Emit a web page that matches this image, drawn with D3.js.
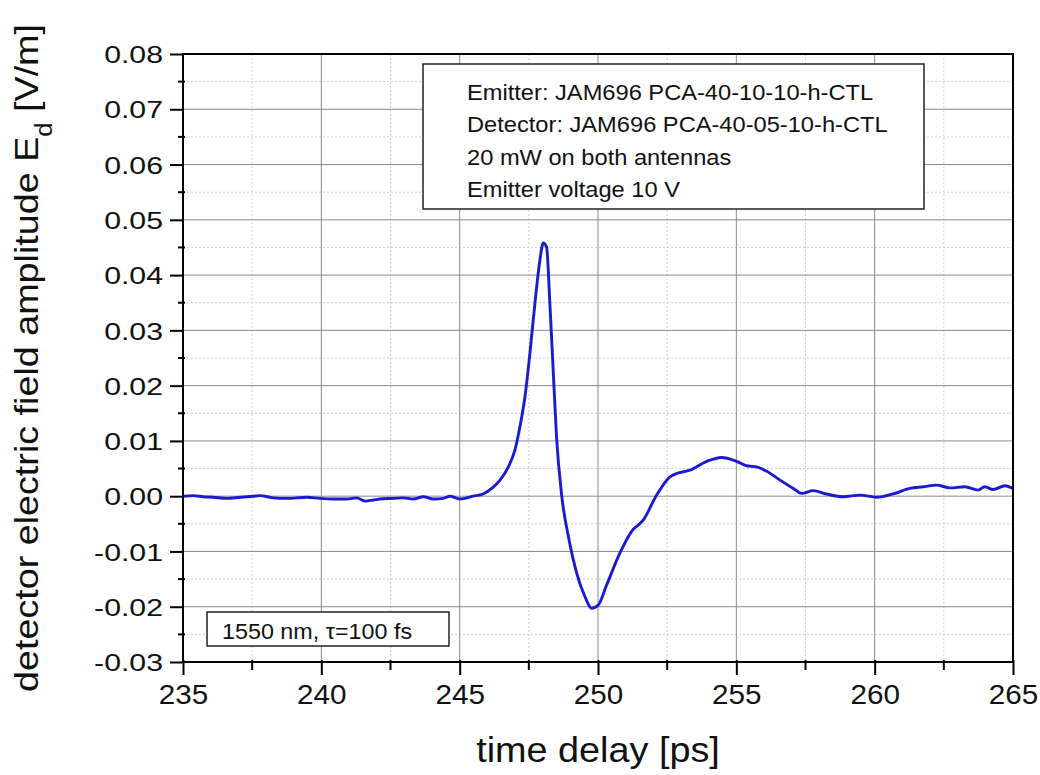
<!DOCTYPE html>
<html>
<head>
<meta charset="utf-8">
<script src="https://cdn.jsdelivr.net/npm/d3@7"></script>
<style>
  body { margin: 0; background: #fff; }
  text { font-family: "Liberation Sans", Arial, sans-serif; fill: #111; }
</style>
</head>
<body>
<div id="chart"></div>
<script>
// measured trace: time delay [ps] and field amplitude [V/m]
const timeDelay = [235.0, 235.37, 235.73, 236.1, 236.58, 237.06, 237.54, 237.78, 238.27, 238.75,
  239.47, 239.95, 240.43, 240.92, 241.28, 241.58, 241.88, 242.12, 242.6, 242.96,
  243.32, 243.69, 244.05, 244.41, 244.65, 245.01, 245.48, 245.85, 246.16, 246.46,
  246.76, 247.0, 247.18, 247.36, 247.54, 247.72, 247.9, 248.02, 248.14, 248.26,
  248.38, 248.5, 248.69, 248.93, 249.23, 249.53, 249.77, 250.01, 250.31, 250.79,
  251.21, 251.64, 252.12, 252.6, 252.84, 253.32, 253.93, 254.47, 255.01, 255.37,
  255.73, 256.1, 256.58, 257.06, 257.36, 257.78, 258.26, 258.86, 259.47, 260.07,
  260.67, 261.27, 261.75, 262.24, 262.72, 263.26, 263.74, 263.98, 264.28, 264.71, 265.0]
const fieldAmp = [0.0000, 0.0001, -0.0001, -0.0002, -0.0004, -0.0002, 0.0000, 0.0001, -0.0003, -0.0004,
  -0.0002, -0.0004, -0.0005, -0.0005, -0.0003, -0.0009, -0.0007, -0.0005, -0.0004, -0.0003,
  -0.0005, -0.0001, -0.0005, -0.0004, 0.0000, -0.0005, 0.0000, 0.0004, 0.0014, 0.0029,
  0.0053, 0.0084, 0.0126, 0.0180, 0.0259, 0.0349, 0.0427, 0.0458, 0.0451, 0.0349,
  0.0228, 0.0108, 0.0000, -0.0073, -0.0139, -0.0182, -0.0203, -0.0197, -0.0161, -0.0103,
  -0.0064, -0.0043, 0.0002, 0.0035, 0.0041, 0.0047, 0.0063, 0.0070, 0.0063, 0.0055,
  0.0053, 0.0045, 0.0029, 0.0014, 0.0005, 0.0010, 0.0004, -0.0001, 0.0002, -0.0002,
  0.0004, 0.0014, 0.0017, 0.0020, 0.0015, 0.0017, 0.0011, 0.0017, 0.0012, 0.0019, 0.0014]

const xTicks = [235, 240, 245, 250, 255, 260, 265]
const xMinor = [237.5, 242.5, 247.5, 252.5, 257.5, 262.5]
const yTicks = [-0.03, -0.02, -0.01, 0.00, 0.01, 0.02, 0.03, 0.04, 0.05, 0.06, 0.07, 0.08]
const yMinor = [-0.025, -0.015, -0.005, 0.005, 0.015, 0.025, 0.035, 0.045, 0.055, 0.065, 0.075]

const infoLines = ["Emitter: JAM696 PCA-40-10-10-h-CTL",
  "Detector: JAM696 PCA-40-05-10-h-CTL",
  "20 mW on both antennas",
  "Emitter voltage 10 V"]
const laserLabel = "1550 nm, \u03c4=100 fs"

const width = 1040, height = 775
const margin = { top: 54, right: 27, bottom: 113, left: 183 }

const svg = d3.select("#chart").append("svg")
  .attr("width", width)
  .attr("height", height)

const x = d3.scaleLinear().domain([235, 265]).range([margin.left, width - margin.right])
const y = d3.scaleLinear().domain([-0.03, 0.08]).range([height - margin.bottom, margin.top])

// stretch text horizontally, the original fonts run wide
function stretch(sel, k) {
  sel.each(function () {
    const w = this.getComputedTextLength()
    d3.select(this).attr("textLength", w * k).attr("lengthAdjust", "spacingAndGlyphs")
  })
}

// grid
const grid = svg.append("g")
grid.selectAll(".xminor").data(xMinor).enter().append("line")
  .attr("x1", d => x(d)).attr("x2", d => x(d))
  .attr("y1", y(0.08)).attr("y2", y(-0.03))
  .attr("stroke", "#cfcfcf").attr("stroke-dasharray", "2,2")
grid.selectAll(".yminor").data(yMinor).enter().append("line")
  .attr("x1", x(235)).attr("x2", x(265))
  .attr("y1", d => y(d)).attr("y2", d => y(d))
  .attr("stroke", "#cfcfcf").attr("stroke-dasharray", "2,2")
grid.selectAll(".xmajor").data(xTicks.slice(1, -1)).enter().append("line")
  .attr("x1", d => x(d)).attr("x2", d => x(d))
  .attr("y1", y(0.08)).attr("y2", y(-0.03))
  .attr("stroke", "#8a8a8a").attr("stroke-width", 1)
grid.selectAll(".ymajor").data(yTicks.slice(1, -1)).enter().append("line")
  .attr("x1", x(235)).attr("x2", x(265))
  .attr("y1", d => y(d)).attr("y2", d => y(d))
  .attr("stroke", "#8a8a8a").attr("stroke-width", 1)

// trace
const pts = timeDelay.map((t, i) => [t, fieldAmp[i]])
const line = d3.line()
  .x(d => x(d[0]))
  .y(d => y(d[1]))
  .curve(d3.curveMonotoneX)

svg.append("path")
  .datum(pts)
  .attr("fill", "none")
  .attr("stroke", "#1a1ad2")
  .attr("stroke-width", 2.9)
  .attr("stroke-linejoin", "round")
  .attr("d", line)

// axes
const xAxis = svg.append("g")
  .attr("transform", `translate(0,${y(-0.03)})`)
  .call(d3.axisBottom(x).tickValues(xTicks).tickSize(13).tickPadding(9).tickFormat(d3.format("d")))
xAxis.selectAll(".tick").append("line").attr("y1", -2).attr("y2", 0).attr("stroke", "#000")
xAxis.selectAll(".minor").data(xMinor).enter().append("line")
  .attr("x1", d => x(d)).attr("x2", d => x(d))
  .attr("y1", -2).attr("y2", 8).attr("stroke", "#000").attr("stroke-width", 2)

const yAxis = svg.append("g")
  .attr("transform", `translate(${x(235)},0)`)
  .call(d3.axisLeft(y).tickValues(yTicks).tickSize(13).tickPadding(7).tickFormat(d3.format(".2f")))
yAxis.selectAll(".minor").data(yMinor).enter().append("line")
  .attr("y1", d => y(d)).attr("y2", d => y(d))
  .attr("x1", -5).attr("x2", 2).attr("stroke", "#000").attr("stroke-width", 2)

svg.selectAll(".domain").remove()
svg.selectAll(".tick line").attr("stroke", "#000").attr("stroke-width", 2)

xAxis.selectAll(".tick text")
  .attr("font-size", 28).attr("fill", "#111")
  .attr("dy", "0.71em")
  .call(stretch, 1.06)
yAxis.selectAll(".tick text")
  .attr("font-size", 24).attr("fill", "#111")
  .attr("dy", "0.36em")
  .text(d => d3.format(".2f")(d).replace("\u2212", "-"))
  .call(stretch, 1.26)

// frame
svg.append("rect")
  .attr("x", x(235)).attr("y", y(0.08))
  .attr("width", x(265) - x(235)).attr("height", y(-0.03) - y(0.08))
  .attr("fill", "none").attr("stroke", "#000").attr("stroke-width", 2)

// axis titles
svg.append("text")
  .attr("x", (x(235) + x(265)) / 2).attr("y", 762)
  .attr("text-anchor", "middle")
  .attr("font-size", 35)
  .text("time delay [ps]")
  .call(stretch, 1.08)

const yTitle = svg.append("text")
  .attr("transform", `translate(38,${(y(0.08) + y(-0.03)) / 2}) rotate(-90)`)
  .attr("text-anchor", "middle")
  .attr("font-size", 34)
yTitle.append("tspan").text("detector electric field amplitude E")
yTitle.append("tspan").attr("font-size", 23).attr("dy", 14).text("d")
yTitle.append("tspan").attr("dy", -14).text(" [V/m]")
yTitle.attr("textLength", 668).attr("lengthAdjust", "spacingAndGlyphs")

// info box
svg.append("rect")
  .attr("x", 423).attr("y", 64).attr("width", 501).attr("height", 145)
  .attr("fill", "#fff").attr("stroke", "#222").attr("stroke-width", 1.5)
svg.selectAll(".info").data(infoLines).enter().append("text")
  .attr("x", 467).attr("y", (d, i) => 100 + i * 32.3)
  .attr("font-size", 21.5)
  .text(d => d)
  .call(stretch, 1.1)

// laser box
svg.append("rect")
  .attr("x", 207).attr("y", 612).attr("width", 242).attr("height", 34)
  .attr("fill", "#fff").attr("stroke", "#222").attr("stroke-width", 1.5)
svg.append("text")
  .attr("x", 222).attr("y", 639)
  .attr("font-size", 22)
  .text(laserLabel)
  .call(stretch, 1.06)
</script>
</body>
</html>
